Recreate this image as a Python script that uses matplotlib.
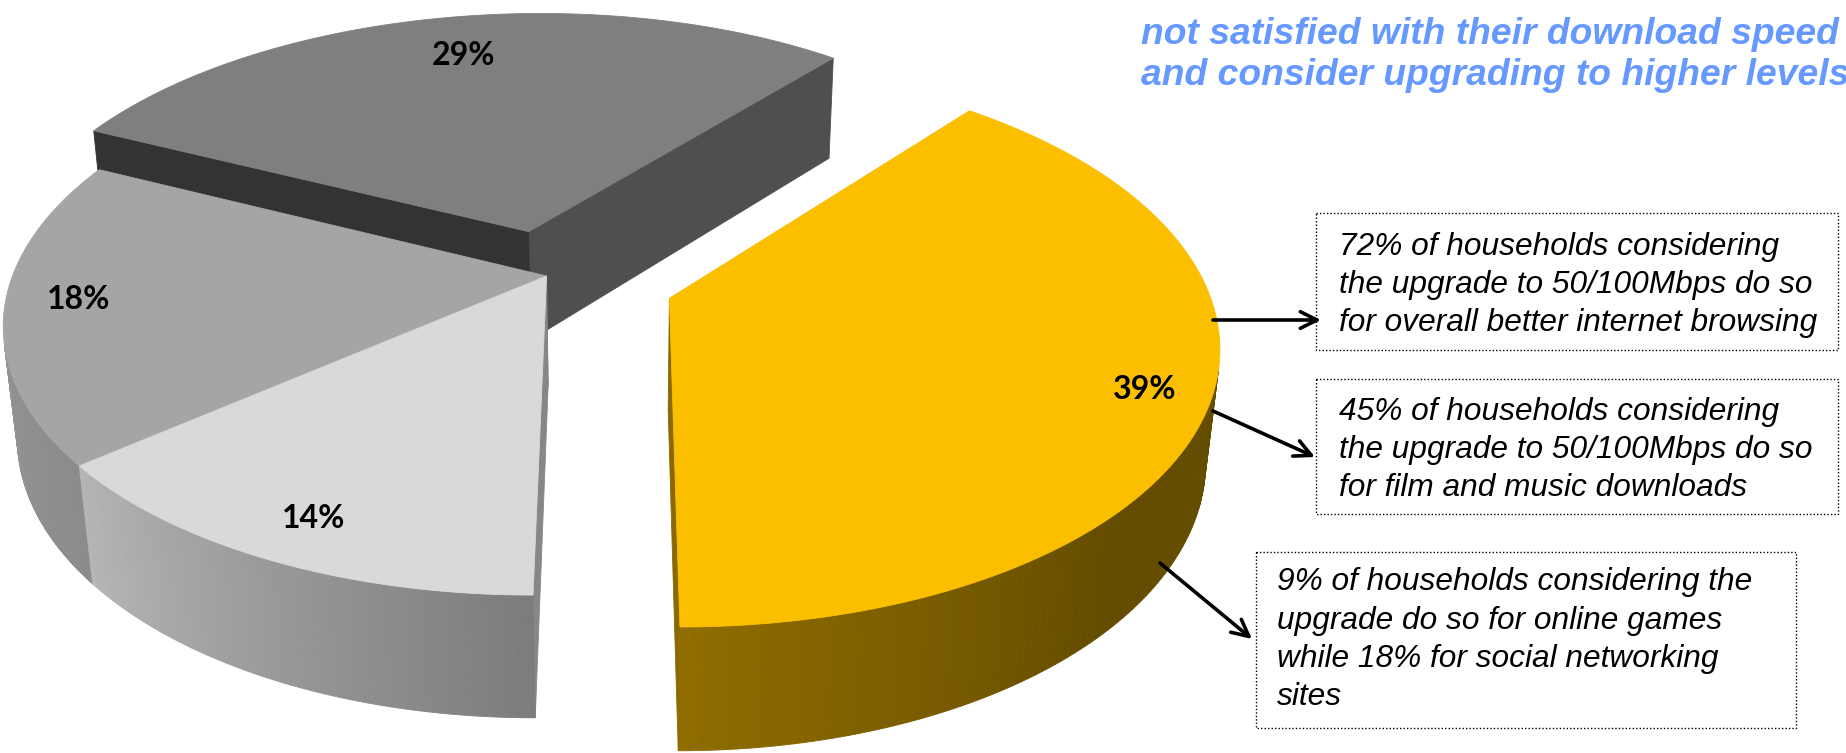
import numpy as np
import matplotlib.pyplot as plt
from matplotlib.patches import Polygon, Rectangle
from matplotlib.colors import to_rgb

# Pie data, counter-clockwise from the front edge
shares = [39, 29, 18, 14]
labels = [f"{s}%" for s in shares]
explode = [0.243, 0.175, 0.0, 0.0]
top_colors = ["#FBBF00", "#7F7F7F", "#A5A5A5", "#D9D9D9"]
label_radius = [0.885, 0.80, 0.866, 0.87]
label_turn = [-1.0, -1.0, -1.5, 0.5]

headline = ["not satisfied with their download speed",
            "and consider upgrading to higher levels"]
notes = [
    ["72% of households considering",
     "the upgrade to 50/100Mbps do so",
     "for overall better internet browsing"],
    ["45% of households considering",
     "the upgrade to 50/100Mbps do so",
     "for film and music downloads"],
    ["9% of households considering the",
     "upgrade do so for online games",
     "while 18% for social networking",
     "sites"],
]

# Camera / layout for the 3D pie (pixels)
CX, CY = 616, 276
CAM_U = 0.13
SCALE = 2836
DIST = 5.31
ELEV = np.radians(30)
THICK = 0.244
START = -90.0

cam = np.array([CAM_U, -DIST * np.cos(ELEV), DIST * np.sin(ELEV)])


def project(u, v, w):
    z = DIST + v * np.cos(ELEV) - w * np.sin(ELEV)
    x = CX + SCALE * (u - CAM_U) / z
    y = CY - SCALE * (v * np.sin(ELEV) + w * np.cos(ELEV)) / z
    return x, y


def depth(u, v, w):
    return DIST + v * np.cos(ELEV) - w * np.sin(ELEV)


def side_shade(theta):
    t = (theta - 60) % 360 + 60
    return np.interp(t, [150, 180, 220, 270, 315, 420],
                     [0.95, 0.92, 0.84, 0.57, 0.40, 0.40])


def radial_shade(normal_deg):
    t = normal_deg % 360
    return np.interp(t, [180, 245, 320], [0.55, 0.40, 0.62])


def shaded(color, k):
    return tuple(np.clip(np.array(to_rgb(color)) * k, 0, 1))


def visible(p, n):
    return np.dot(cam - p, n) > 1e-6


fig = plt.figure(figsize=(18.46, 7.53), dpi=100)
ax = fig.add_axes([0, 0, 1, 1])
ax.set_xlim(0, 1846)
ax.set_ylim(753, 0)
ax.axis("off")

# build slices
slices = []
angle = START
for i, s in enumerate(shares):
    a1, a2 = angle, angle + s * 3.6
    mid = np.radians((a1 + a2) / 2)
    ou, ov = explode[i] * np.cos(mid), explode[i] * np.sin(mid)
    slices.append((i, a1, a2, ou, ov))
    angle = a2


def slice_depth(sl):
    i, a1, a2, ou, ov = sl
    th = np.radians(np.linspace(a1, a2, 30))
    return depth(ou + 0.5 * np.cos(th).mean(), ov + 0.5 * np.sin(th).mean(), 0)


for i, a1, a2, ou, ov in sorted(slices, key=slice_depth, reverse=True):
    col = top_colors[i]
    faces = []

    # flat radial faces
    for a, sign in ((a1, 1), (a2, -1)):
        r = np.radians(a)
        n = np.array([sign * np.sin(r), -sign * np.cos(r), 0.0])
        p = np.array([ou + 0.5 * np.cos(r), ov + 0.5 * np.sin(r), -THICK / 2])
        if visible(p, n):
            pts = [project(ou, ov, 0), project(ou + np.cos(r), ov + np.sin(r), 0),
                   project(ou + np.cos(r), ov + np.sin(r), -THICK), project(ou, ov, -THICK)]
            nd = np.degrees(np.arctan2(n[1], n[0]))
            faces.append((depth(*p), pts, shaded(col, radial_shade(nd))))

    # curved outer side
    th = np.linspace(a1, a2, 160)
    for t1, t2 in zip(th[:-1], th[1:]):
        tm = np.radians((t1 + t2) / 2)
        n = np.array([np.cos(tm), np.sin(tm), 0.0])
        p = np.array([ou + np.cos(tm), ov + np.sin(tm), -THICK / 2])
        if not visible(p, n):
            continue
        r1, r2 = np.radians(t1), np.radians(t2)
        pts = [project(ou + np.cos(r1), ov + np.sin(r1), 0),
               project(ou + np.cos(r2), ov + np.sin(r2), 0),
               project(ou + np.cos(r2), ov + np.sin(r2), -THICK),
               project(ou + np.cos(r1), ov + np.sin(r1), -THICK)]
        faces.append((depth(*p), pts, shaded(col, side_shade((t1 + t2) / 2))))

    for _, pts, c in sorted(faces, key=lambda f: f[0], reverse=True):
        ax.add_patch(Polygon(pts, closed=True, facecolor=c, edgecolor=c, lw=0.6))

    # top face
    rr = np.radians(np.linspace(a1, a2, 200))
    pts = [project(ou, ov, 0)] + [project(ou + np.cos(r), ov + np.sin(r), 0) for r in rr]
    ax.add_patch(Polygon(pts, closed=True, facecolor=col, edgecolor=col, lw=0.6))

# percentage labels
for i, a1, a2, ou, ov in slices:
    mid = np.radians((a1 + a2) / 2 + label_turn[i])
    rl = label_radius[i]
    x, y = project(ou + rl * np.cos(mid), ov + rl * np.sin(mid), 0)
    ax.text(x, y, labels[i], ha="center", va="center", fontsize=23,
            fontweight="bold", family=["Liberation Sans Narrow", "Lato"],
            color="black")

# headline (top right)
for line, y in zip(headline, [34, 75]):
    ax.text(1141, y, line, ha="left", va="center", fontsize=26.8,
            fontweight="bold", fontstyle="italic", family="Liberation Sans",
            color="#6699FF")

# note boxes
boxes = [(1316, 213, 1838, 350), (1316, 379, 1838, 514), (1256, 552, 1796, 728)]
text_x = [1339, 1339, 1277]
baselines = [[255, 293, 331], [420, 458, 496], [590, 629, 667, 705]]
for (x0, y0, x1, y1), tx, bl, lines in zip(boxes, text_x, baselines, notes):
    ax.add_patch(Rectangle((x0, y0), x1 - x0, y1 - y0, fill=False,
                           edgecolor="black", lw=1.0, ls=(0, (1, 1.5))))
    for line, y in zip(lines, bl):
        ax.text(tx, y, line, ha="left", va="baseline", fontsize=22.8,
                fontstyle="italic", family="Liberation Sans", color="black")

# arrows from the pie to the notes
arrows = [((1213, 320), (1321, 320)),
          ((1213, 411), (1315, 457)),
          ((1160, 563), (1252, 639))]
for start, tip in arrows:
    ax.annotate("", xy=tip, xytext=start,
                arrowprops=dict(arrowstyle="->", lw=2.6, color="black",
                                mutation_scale=30, shrinkA=0, shrinkB=0))

fig.savefig("out.png", dpi=100)
